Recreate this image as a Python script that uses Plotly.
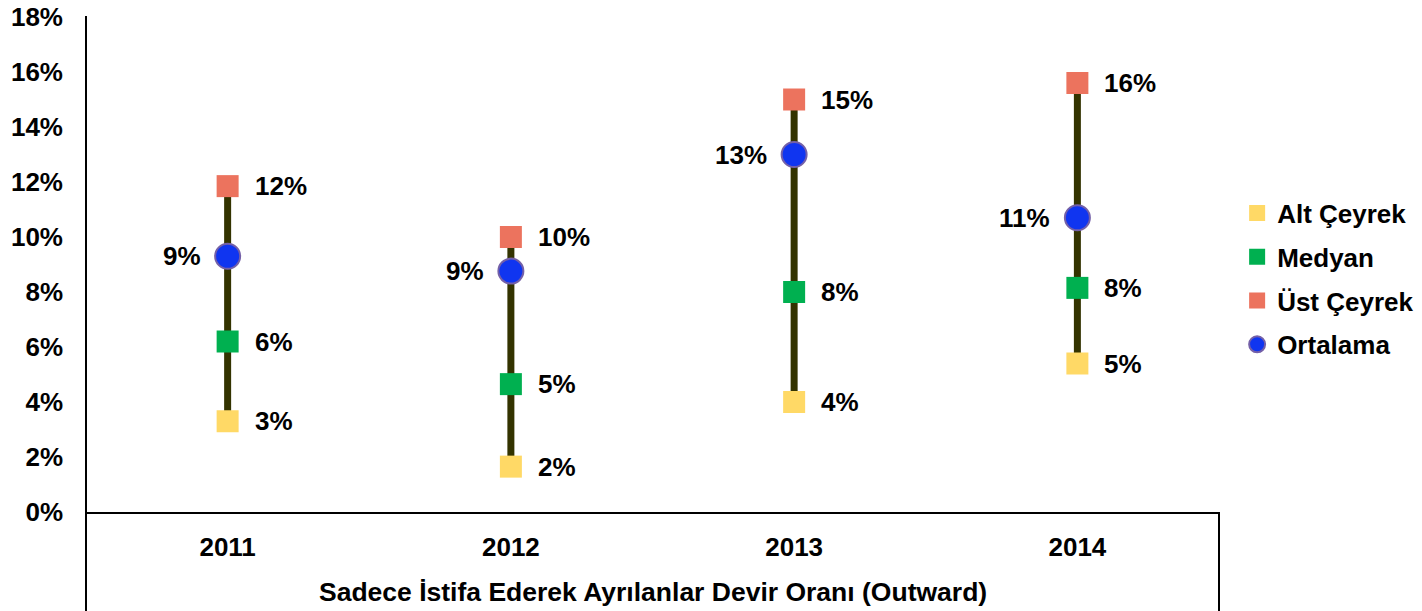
import plotly.graph_objects as go

years = ["2011", "2012", "2013", "2014"]
alt_ceyrek = [0.033, 0.0165, 0.040, 0.054]
medyan = [0.062, 0.0465, 0.080, 0.0815]
ust_ceyrek = [0.1185, 0.100, 0.150, 0.156]
ortalama = [0.093, 0.0876, 0.130, 0.107]
y_ticks = [0, 0.02, 0.04, 0.06, 0.08, 0.10, 0.12, 0.14, 0.16, 0.18]
axis_title = "Sadece İstifa Ederek Ayrılanlar Devir Oranı (Outward)"

FONT = "Liberation Sans, Arial, sans-serif"
FS = 26
xs = list(range(len(years)))

def pct(v):
    return f"<b>{round(v * 100)}%</b>"

fig = go.Figure()

# vertical range lines
lx, ly = [], []
for i in xs:
    lx += [i, i, None]
    ly += [alt_ceyrek[i], ust_ceyrek[i], None]
fig.add_trace(go.Scatter(x=lx, y=ly, mode="lines", line=dict(color="#333300", width=7),
                         showlegend=False, hoverinfo="skip"))

series = [
    ("Alt Çeyrek", alt_ceyrek, "square", "#FFD966", None, "right"),
    ("Medyan", medyan, "square", "#00B050", None, "right"),
    ("Üst Çeyrek", ust_ceyrek, "square", "#EC735E", None, "right"),
    ("Ortalama", ortalama, "circle", "#1035F0", "#7460A8", "left"),
]

for name, vals, sym, col, lcol, side in series:
    marker = dict(symbol=sym, color=col, size=22 if sym == "square" else 25)
    if lcol:
        marker["line"] = dict(color=lcol, width=2)
    else:
        marker["line"] = dict(width=0)
    fig.add_trace(go.Scatter(x=xs, y=vals, mode="markers", name=f"<b>{name}</b>",
                             marker=marker, legendgroup=name))
    for i, v in enumerate(vals):
        fig.add_annotation(x=i, y=v, text=pct(v), showarrow=False,
                           xanchor="left" if side == "right" else "right",
                           xshift=25 if side == "right" else -25,
                           font=dict(family=FONT, size=FS, color="black"))

fig.add_annotation(xref="paper", yref="paper", x=0.5, y=-0.1616, yanchor="middle",
                   text=f"<b>{axis_title}</b>", showarrow=False,
                   font=dict(family=FONT, size=26.5, color="black"))

fig.update_layout(
    width=1422, height=611,
    margin=dict(l=86, r=203, t=17, b=99, autoexpand=False),
    paper_bgcolor="white", plot_bgcolor="white",
    font=dict(family=FONT, size=FS, color="black"),
    showlegend=True,
    legend=dict(x=1.016, xanchor="left", y=0.4707, yanchor="middle",
                font=dict(family=FONT, size=FS, color="black"),
                tracegroupgap=7),
    xaxis=dict(range=[-0.5, 3.5], tickmode="array", tickvals=xs,
               ticktext=[f"<b>{y}</b>" for y in years],
               showgrid=False, zeroline=False, showline=True, linecolor="black", linewidth=2,
               ticks="", ticklabelstandoff=11, automargin=False),
    yaxis=dict(range=[0, 0.18], tickmode="array", tickvals=y_ticks,
               ticktext=[f"<b>{round(t * 100)}%</b>" for t in y_ticks],
               showgrid=False, zeroline=False, showline=False, ticks="",
               ticklabelstandoff=22, automargin=False, ticklabeloverflow="allow"),
)

fig.add_shape(type="line", xref="paper", yref="paper", x0=0, x1=0, y0=-0.22, y1=1.002,
              line=dict(color="black", width=2))
fig.add_shape(type="line", xref="paper", yref="paper", x0=1, x1=1, y0=-0.22, y1=0,
              line=dict(color="black", width=2))

fig.write_html("out.html", config={"displayModeBar": False},
               post_script="document.body.style.margin='0';document.body.style.overflow='hidden';")
